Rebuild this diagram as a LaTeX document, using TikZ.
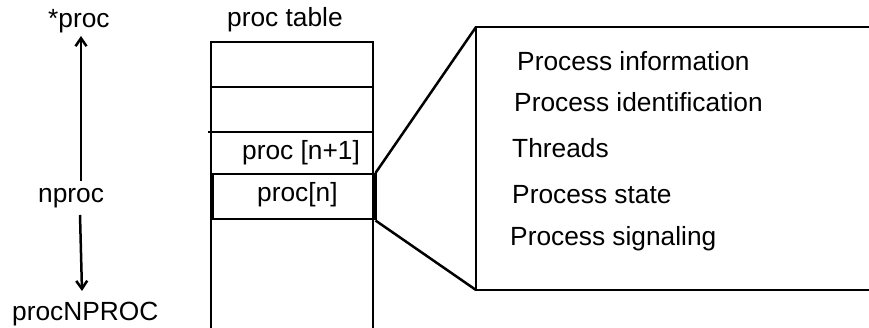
\documentclass[tikz,border=0pt]{standalone}
\usepackage{fontspec}
\setmainfont{Liberation Sans}
\usetikzlibrary{arrows.meta}
\begin{document}
\begin{tikzpicture}[x=1pt,y=-1pt,
  lbl/.style={anchor=base west,inner sep=0pt,font=\fontsize{26.3}{30}\selectfont},
  ln/.style={line width=2.5pt},
  arr/.style={line width=2.5pt,-{Straight Barb[length=8pt,width=11pt,line width=2.5pt]}}]
\useasboundingbox (0,0) rectangle (869,328);
% left labels and arrows
\node[lbl] (star) at (48,28) {*proc};
\node[lbl] (nproc) at (38,203) {nproc};
\node[lbl] (last) at (12,320) {procNPROC};
\coordinate (upS) at (81,181);
\coordinate (upE) at (81,36);
\coordinate (dnS) at (80,215);
\coordinate (dnE) at (82,291);
\draw[arr] (upS) -- (upE);
\draw[arr] (dnS) -- (dnE);
% proc table
\node[lbl] (title) at (227,27) {proc table};
\coordinate (tl) at (211,42);
\coordinate (tr) at (373,42);
\coordinate (bl) at (211,328);
\coordinate (br) at (373,328);
\draw[ln] (bl) -- (tl) -- (tr) -- (br);
\draw[ln] (211,87) -- (373,87);
\draw[ln] (208,132) -- (373,132);
\node[draw,line width=2.5pt,minimum width=162pt,minimum height=45pt,inner sep=0pt,anchor=north west] (rown) at (211,173) {};
\draw[line width=2.9pt] (rown.north west) -- (rown.south west);
\draw[line width=2.9pt] (rown.north east) -- (rown.south east);
\node[lbl] (n1) at (242,160) {proc [n+1]};
\node[lbl] (nn) at (257,202) {proc[n]};
% detail box
\coordinate (btl) at (476,27);
\coordinate (bbl) at (476,290);
\coordinate (btr) at (869,27);
\coordinate (bbr) at (869,290);
\draw[ln] (btr) -- (btl) -- (bbl) -- (bbr);
\draw[ln] (rown.north east) -- (btl);
\draw[ln] (rown.south east) -- (bbl);
\node[lbl] (t1) at (517,71) {Process information};
\node[lbl] (t2) at (514,112) {Process identification};
\node[lbl] (t3) at (512,158) {Threads};
\node[lbl] (t4) at (512,204) {Process state};
\node[lbl] (t5) at (510,246) {Process signaling};
\end{tikzpicture}
\end{document}
